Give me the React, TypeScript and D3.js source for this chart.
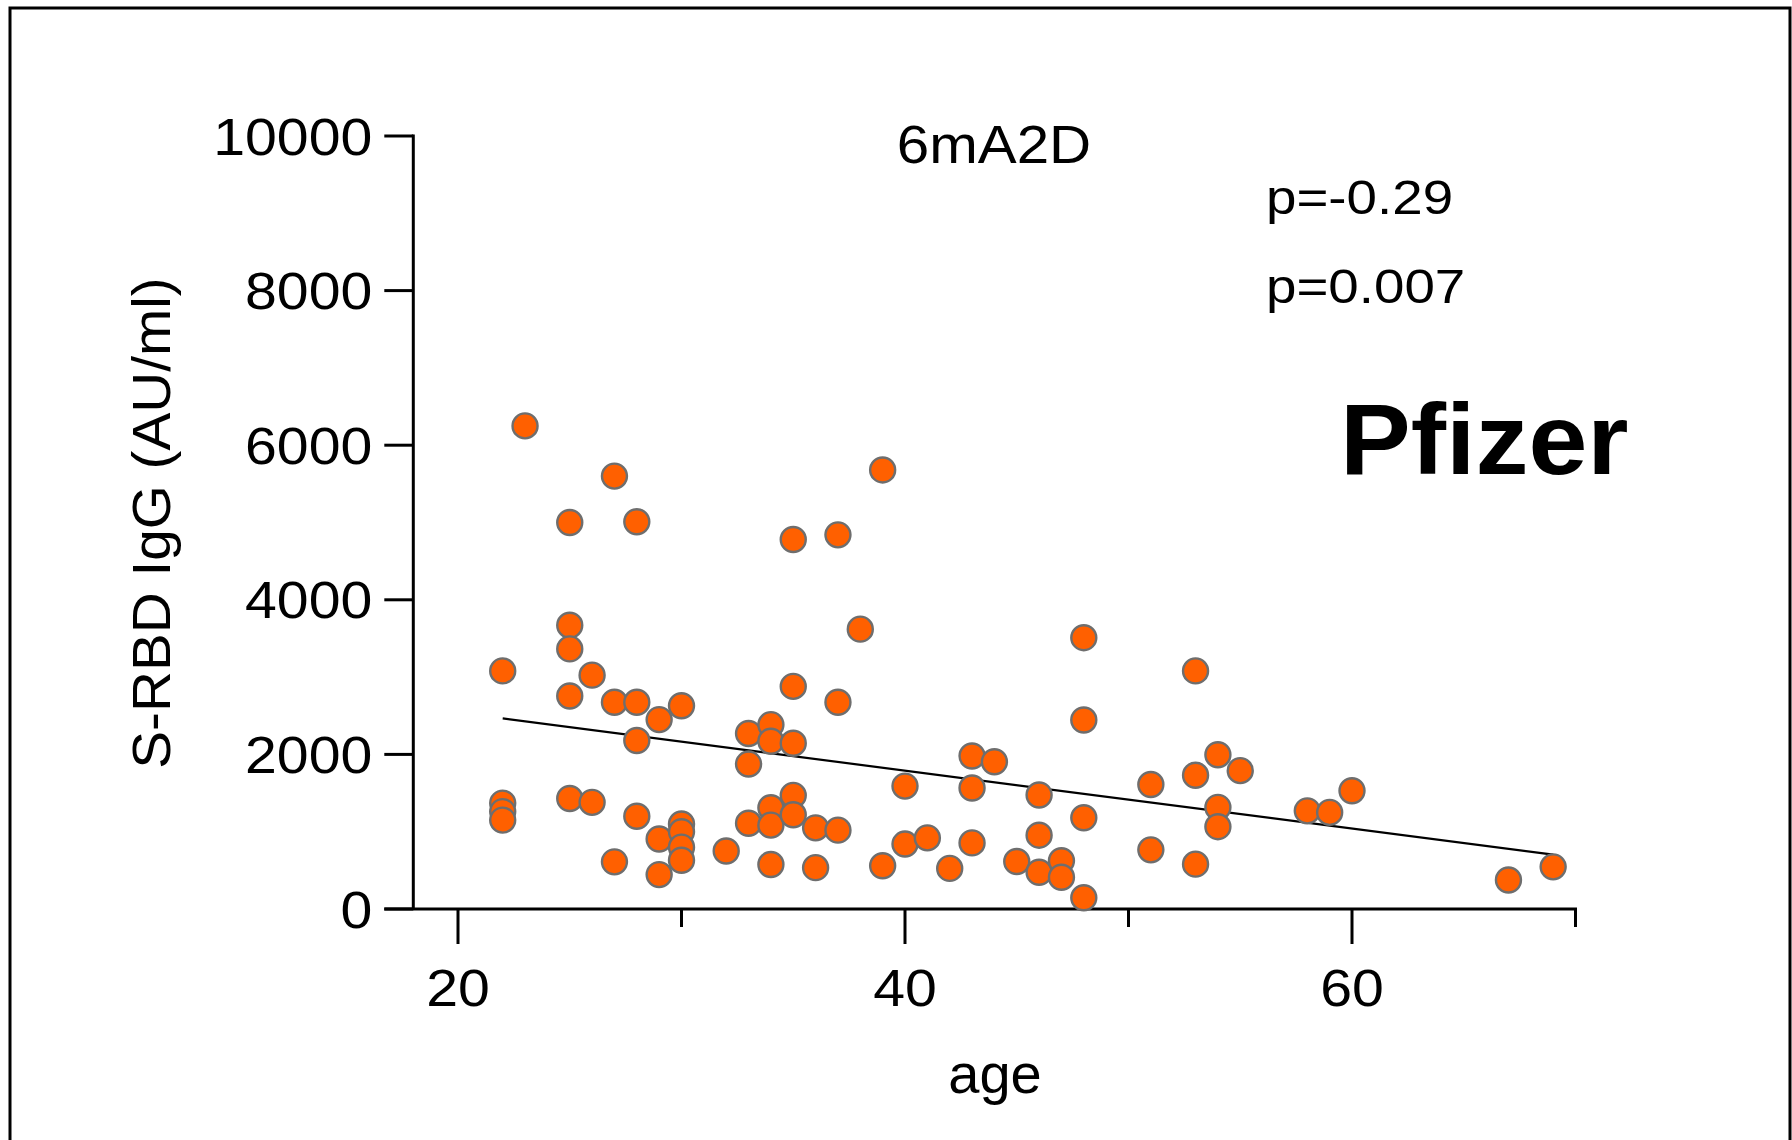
import React from "react";
import * as d3 from "d3";

// ages (x) and S-RBD IgG values (y)
const ages: number[] = [
  22, 22, 22, 22,
  23,
  25, 25, 25, 25, 25,
  26, 26,
  27, 27, 27,
  28, 28, 28, 28,
  29, 29, 29,
  30, 30, 30, 30, 30,
  32,
  33, 33, 33,
  34, 34, 34, 34, 34,
  35, 35, 35, 35, 35,
  36, 36,
  37, 37, 37,
  38,
  39, 39,
  40, 40,
  41,
  42,
  43, 43, 43,
  44,
  45,
  46, 46, 46,
  47, 47,
  48, 48, 48, 48,
  51, 51,
  53, 53, 53,
  54, 54, 54,
  55,
  58,
  59,
  60,
  67,
  69,
];
const igg: number[] = [
  3080, 1370, 1260, 1150,
  6250,
  5000, 3670, 3365, 2755, 1430,
  3025, 1380,
  5600, 2675, 610,
  5010, 2675, 2180, 1200,
  2450, 905, 445,
  2630, 1100, 1000, 800, 630,
  750,
  2270, 1875, 1110,
  2385, 2170, 1310, 1085, 575,
  4780, 2880, 2145, 1470, 1220,
  1050, 535,
  4840, 2675, 1020,
  3620,
  5680, 560,
  1590, 840,
  920,
  525,
  1980, 1565, 855,
  1905,
  615,
  1475, 955, 475,
  625, 410,
  3510, 2445, 1180, 145,
  1610, 765,
  3080, 1730, 580,
  1995, 1315, 1065,
  1790,
  1270,
  1250,
  1530,
  375,
  545,
];

// linear fit
const fitIntercept = 3290;
const fitSlope = -37.5;

const yTicks: number[] = [0, 2000, 4000, 6000, 8000, 10000];
const xMajorTicks: number[] = [20, 40, 60];
const xMinorTicks: number[] = [30, 50, 70];
const panelTitle = "6mA2D";
const statLines: string[] = ["p=-0.29", "p=0.007"];
const vaccineLabel = "Pfizer";
const xLabel = "age";
const yLabel = "S-RBD IgG (AU/ml)";

const FONT = "'Liberation Sans', Arial, Helvetica, sans-serif";

export default function App() {
  const W = 1792;
  const H = 1140;
  const x = d3.scaleLinear().domain([18, 70]).range([413.3, 1575.5]);
  const y = d3.scaleLinear().domain([0, 10000]).range([909, 136]);

  const [xmin, xmax] = d3.extent(ages) as [number, number];
  const fitLine = d3
    .line<number>()
    .x((d) => x(d))
    .y((d) => y(fitIntercept + fitSlope * d));

  const axisX0 = x(18);
  const axisY0 = y(0);
  const sx = 1.1;

  return (
    <svg
      width={W}
      height={H}
      style={{ position: "absolute", left: 0, top: 0, background: "#fff" }}
    >
      <rect x={0} y={0} width={W} height={H} fill="#fff" />
      {/* frame */}
      <path
        d={`M10,${H + 5} L10,8 L1790,8 L1790,${H + 5}`}
        fill="none"
        stroke="#000"
        strokeWidth={3}
      />

      {/* y axis */}
      <line x1={axisX0} x2={axisX0} y1={y(10000) - 1.5} y2={axisY0} stroke="#000" strokeWidth={3} />
      {yTicks.map((t) => (
        <g key={"yt" + t}>
          <line x1={axisX0 - 29} x2={axisX0} y1={y(t)} y2={y(t)} stroke="#000" strokeWidth={3} />
          <g transform={`translate(${axisX0 - 41},${y(t) + 18.5}) scale(${sx},1)`}>
            <text x={0} y={0} textAnchor="end" fontFamily={FONT} fontSize={52} fill="#000">
              {t}
            </text>
          </g>
        </g>
      ))}

      {/* x axis */}
      <line x1={axisX0 - 29} x2={x(70) + 1.5} y1={axisY0} y2={axisY0} stroke="#000" strokeWidth={3} />
      {xMajorTicks.map((t) => (
        <g key={"xt" + t}>
          <line x1={x(t)} x2={x(t)} y1={axisY0} y2={axisY0 + 35} stroke="#000" strokeWidth={3} />
          <g transform={`translate(${x(t)},${axisY0 + 97}) scale(${sx},1)`}>
            <text x={0} y={0} textAnchor="middle" fontFamily={FONT} fontSize={52} fill="#000">
              {t}
            </text>
          </g>
        </g>
      ))}
      {xMinorTicks.map((t) => (
        <line key={"xm" + t} x1={x(t)} x2={x(t)} y1={axisY0} y2={axisY0 + 18} stroke="#000" strokeWidth={3} />
      ))}

      {/* axis titles */}
      <text x={995} y={1093} textAnchor="middle" fontFamily={FONT} fontSize={56} fill="#000">
        {xLabel}
      </text>
      <g transform={`translate(170,523) rotate(-90) scale(1.07,1)`}>
        <text x={0} y={0} textAnchor="middle" fontFamily={FONT} fontSize={53} fill="#000">
          {yLabel}
        </text>
      </g>

      {/* panel title and stats */}
      <g transform={`translate(994,163) scale(${sx},1)`}>
        <text x={0} y={0} textAnchor="middle" fontFamily={FONT} fontSize={53} fill="#000">
          {panelTitle}
        </text>
      </g>
      {statLines.map((s, i) => (
        <g key={s} transform={`translate(1266,${214 + i * 89}) scale(1.14,1)`}>
          <text x={0} y={0} fontFamily={FONT} fontSize={48} fill="#000">
            {s}
          </text>
        </g>
      ))}
      <g transform={`translate(1340,474) scale(1.06,1)`}>
        <text x={0} y={0} fontFamily={FONT} fontSize={100} fontWeight="bold" fill="#000">
          {vaccineLabel}
        </text>
      </g>

      {/* regression line (under the points) */}
      <path d={fitLine([xmin, xmax]) || ""} fill="none" stroke="#000" strokeWidth={2.2} />

      {/* points */}
      {ages.map((a, i) => (
        <circle
          key={"p" + i}
          cx={x(a)}
          cy={y(igg[i])}
          r={12.5}
          fill="#FF6000"
          stroke="#6E6E6E"
          strokeWidth={2.4}
        />
      ))}
    </svg>
  );
}
